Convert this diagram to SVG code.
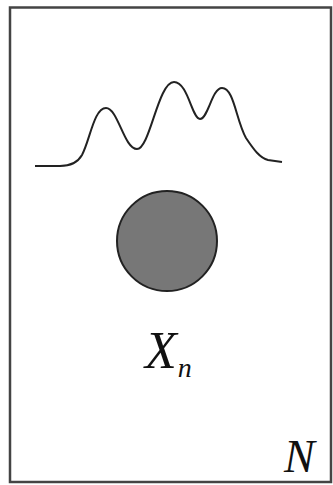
<svg xmlns="http://www.w3.org/2000/svg" width="333" height="485" viewBox="0 0 333 485">
<style>
.lbl{font-family:"Liberation Serif","Times New Roman",serif;font-style:italic;fill:#111}
</style>
<rect width="333" height="485" fill="#fff"/>
<g id="plate">
<rect x="10" y="7.5" width="321" height="474.5" fill="none" stroke="#444" stroke-width="2.5"/>
<text class="lbl" x="284" y="472" font-size="46">N</text>
</g>
<g id="density">
<path d="M35,166 L60,166 C72,166 78,162 82,155 C90,140 94,108 106,108 C118,108 124,149 137,149 C150,149 158,82 174,82 C188,82 192,119 200,119 C208,119 212,88 222,88 C234,88 236,120 246,138 C254,150 260,158 268,160 L282,162" fill="none" stroke="#222" stroke-width="2"/>
</g>
<g id="xn">
<circle cx="167" cy="241" r="50" fill="#777" stroke="#222" stroke-width="2"/>
<text class="lbl" x="145" y="368" font-size="52">X<tspan font-size="28" dy="9" dx="1">n</tspan></text>
</g>
</svg>
